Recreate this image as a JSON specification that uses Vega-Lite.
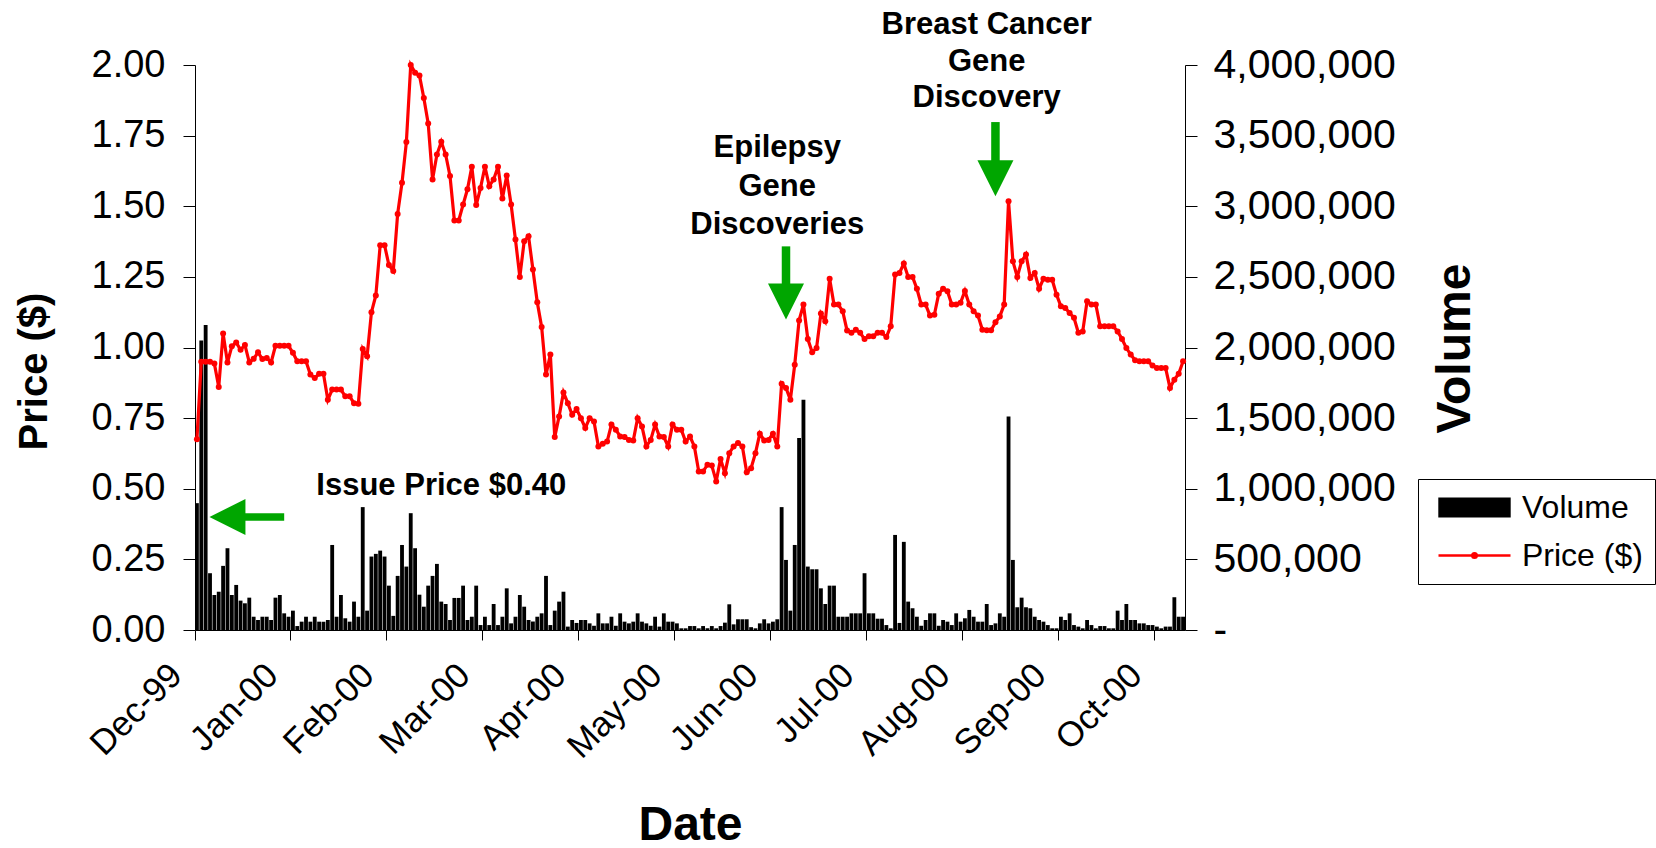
{
"$schema": "https://vega.github.io/schema/vega-lite/v6.json",
"width": 990, "height": 565,
"autosize": {"type": "none"},
"padding": {"left": 195, "top": 65, "right": 471, "bottom": 218},
"background": "white",
"config": {
  "view": {"stroke": null},
  "font": "Liberation Sans",
  "axis": {"grid": false, "domainColor": "black", "tickColor": "black", "labelColor": "black", "titleColor": "black", "labelFont": "Liberation Sans", "titleFont": "Liberation Sans"}
},
"datasets": {"stock": [
{"d":"1999-12-01","p":0.675,"v":898000},{"d":"1999-12-02","p":0.95,"v":2050000},{"d":"1999-12-03","p":0.95,"v":2160000},{"d":"1999-12-06","p":0.95,"v":402000},{"d":"1999-12-07","p":0.943,"v":248000},{"d":"1999-12-08","p":0.86,"v":271000},{"d":"1999-12-09","p":1.05,"v":454000},{"d":"1999-12-10","p":0.947,"v":579000},{"d":"1999-12-13","p":1.004,"v":248000},{"d":"1999-12-14","p":1.018,"v":319000},
{"d":"1999-12-15","p":0.992,"v":208000},{"d":"1999-12-16","p":1.009,"v":189000},{"d":"1999-12-17","p":0.947,"v":229000},{"d":"1999-12-20","p":0.96,"v":94000},{"d":"1999-12-21","p":0.983,"v":71000},{"d":"1999-12-22","p":0.959,"v":94000},{"d":"1999-12-23","p":0.963,"v":94000},{"d":"1999-12-24","p":0.947,"v":71000},{"d":"1999-12-29","p":1.006,"v":229000},{"d":"1999-12-30","p":1.006,"v":248000},
{"d":"1999-12-31","p":1.006,"v":118000},{"d":"2000-01-04","p":1.006,"v":94000},{"d":"2000-01-05","p":0.981,"v":137000},{"d":"2000-01-06","p":0.951,"v":28000},{"d":"2000-01-07","p":0.951,"v":59000},{"d":"2000-01-10","p":0.951,"v":94000},{"d":"2000-01-11","p":0.904,"v":59000},{"d":"2000-01-12","p":0.892,"v":94000},{"d":"2000-01-13","p":0.907,"v":59000},{"d":"2000-01-14","p":0.907,"v":59000},
{"d":"2000-01-17","p":0.815,"v":71000},{"d":"2000-01-18","p":0.851,"v":602000},{"d":"2000-01-19","p":0.851,"v":94000},{"d":"2000-01-20","p":0.851,"v":248000},{"d":"2000-01-21","p":0.827,"v":83000},{"d":"2000-01-24","p":0.827,"v":59000},{"d":"2000-01-25","p":0.803,"v":201000},{"d":"2000-01-27","p":0.801,"v":94000},{"d":"2000-01-28","p":0.995,"v":870000},{"d":"2000-01-31","p":0.969,"v":137000},
{"d":"2000-02-01","p":1.125,"v":520000},{"d":"2000-02-02","p":1.184,"v":539000},{"d":"2000-02-03","p":1.362,"v":562000},{"d":"2000-02-04","p":1.362,"v":520000},{"d":"2000-02-07","p":1.292,"v":314000},{"d":"2000-02-08","p":1.271,"v":100000},{"d":"2000-02-09","p":1.473,"v":383000},{"d":"2000-02-10","p":1.583,"v":602000},{"d":"2000-02-11","p":1.727,"v":449000},{"d":"2000-02-14","p":2.0,"v":827000},
{"d":"2000-02-15","p":1.973,"v":579000},{"d":"2000-02-16","p":1.963,"v":250000},{"d":"2000-02-17","p":1.883,"v":165000},{"d":"2000-02-18","p":1.793,"v":314000},{"d":"2000-02-21","p":1.595,"v":383000},{"d":"2000-02-22","p":1.683,"v":468000},{"d":"2000-02-23","p":1.728,"v":201000},{"d":"2000-02-24","p":1.683,"v":184000},{"d":"2000-02-25","p":1.607,"v":71000},{"d":"2000-02-28","p":1.45,"v":227000},
{"d":"2000-02-29","p":1.45,"v":227000},{"d":"2000-03-01","p":1.506,"v":314000},{"d":"2000-03-02","p":1.56,"v":71000},{"d":"2000-03-03","p":1.64,"v":94000},{"d":"2000-03-06","p":1.504,"v":314000},{"d":"2000-03-07","p":1.565,"v":35000},{"d":"2000-03-08","p":1.64,"v":94000},{"d":"2000-03-09","p":1.571,"v":35000},{"d":"2000-03-10","p":1.595,"v":184000},{"d":"2000-03-13","p":1.64,"v":35000},
{"d":"2000-03-14","p":1.527,"v":94000},{"d":"2000-03-15","p":1.609,"v":295000},{"d":"2000-03-16","p":1.506,"v":47000},{"d":"2000-03-17","p":1.382,"v":94000},{"d":"2000-03-20","p":1.25,"v":248000},{"d":"2000-03-21","p":1.376,"v":165000},{"d":"2000-03-22","p":1.394,"v":71000},{"d":"2000-03-23","p":1.276,"v":60000},{"d":"2000-03-24","p":1.16,"v":94000},{"d":"2000-03-27","p":1.073,"v":118000},
{"d":"2000-03-28","p":0.904,"v":383000},{"d":"2000-03-29","p":0.975,"v":35000},{"d":"2000-03-30","p":0.683,"v":137000},{"d":"2000-03-31","p":0.756,"v":201000},{"d":"2000-04-03","p":0.841,"v":271000},{"d":"2000-04-04","p":0.803,"v":24000},{"d":"2000-04-05","p":0.762,"v":71000},{"d":"2000-04-06","p":0.782,"v":50000},{"d":"2000-04-07","p":0.75,"v":71000},{"d":"2000-04-10","p":0.715,"v":71000},
{"d":"2000-04-11","p":0.75,"v":47000},{"d":"2000-04-12","p":0.738,"v":30000},{"d":"2000-04-13","p":0.65,"v":118000},{"d":"2000-04-14","p":0.659,"v":47000},{"d":"2000-04-17","p":0.667,"v":47000},{"d":"2000-04-18","p":0.727,"v":94000},{"d":"2000-04-19","p":0.709,"v":30000},{"d":"2000-04-20","p":0.685,"v":118000},{"d":"2000-04-26","p":0.683,"v":59000},{"d":"2000-04-27","p":0.673,"v":47000},
{"d":"2000-04-28","p":0.671,"v":59000},{"d":"2000-05-01","p":0.75,"v":118000},{"d":"2000-05-02","p":0.72,"v":59000},{"d":"2000-05-03","p":0.65,"v":47000},{"d":"2000-05-04","p":0.673,"v":30000},{"d":"2000-05-05","p":0.727,"v":94000},{"d":"2000-05-08","p":0.685,"v":24000},{"d":"2000-05-09","p":0.683,"v":118000},{"d":"2000-05-10","p":0.65,"v":59000},{"d":"2000-05-11","p":0.727,"v":59000},
{"d":"2000-05-12","p":0.709,"v":47000},{"d":"2000-05-15","p":0.709,"v":12000},{"d":"2000-05-16","p":0.667,"v":12000},{"d":"2000-05-17","p":0.685,"v":28000},{"d":"2000-05-18","p":0.65,"v":28000},{"d":"2000-05-19","p":0.561,"v":12000},{"d":"2000-05-22","p":0.561,"v":28000},{"d":"2000-05-23","p":0.585,"v":12000},{"d":"2000-05-24","p":0.582,"v":28000},{"d":"2000-05-25","p":0.526,"v":12000},
{"d":"2000-05-26","p":0.605,"v":28000},{"d":"2000-05-29","p":0.555,"v":52000},{"d":"2000-05-30","p":0.626,"v":182000},{"d":"2000-05-31","p":0.65,"v":40000},{"d":"2000-06-01","p":0.662,"v":76000},{"d":"2000-06-02","p":0.65,"v":76000},{"d":"2000-06-05","p":0.558,"v":76000},{"d":"2000-06-06","p":0.573,"v":20000},{"d":"2000-06-07","p":0.626,"v":12000},{"d":"2000-06-08","p":0.695,"v":47000},
{"d":"2000-06-09","p":0.671,"v":76000},{"d":"2000-06-13","p":0.673,"v":47000},{"d":"2000-06-14","p":0.695,"v":59000},{"d":"2000-06-15","p":0.65,"v":76000},{"d":"2000-06-16","p":0.872,"v":870000},{"d":"2000-06-19","p":0.857,"v":496000},{"d":"2000-06-20","p":0.815,"v":137000},{"d":"2000-06-21","p":0.939,"v":602000},{"d":"2000-06-22","p":1.096,"v":1360000},{"d":"2000-06-23","p":1.152,"v":1630000},
{"d":"2000-06-26","p":1.03,"v":449000},{"d":"2000-06-27","p":0.983,"v":430000},{"d":"2000-06-28","p":0.998,"v":430000},{"d":"2000-06-29","p":1.12,"v":295000},{"d":"2000-06-30","p":1.093,"v":184000},{"d":"2000-07-03","p":1.243,"v":314000},{"d":"2000-07-04","p":1.152,"v":314000},{"d":"2000-07-05","p":1.152,"v":94000},{"d":"2000-07-06","p":1.128,"v":94000},{"d":"2000-07-07","p":1.06,"v":94000},
{"d":"2000-07-10","p":1.052,"v":118000},{"d":"2000-07-11","p":1.063,"v":118000},{"d":"2000-07-12","p":1.052,"v":118000},{"d":"2000-07-13","p":1.03,"v":402000},{"d":"2000-07-14","p":1.04,"v":118000},{"d":"2000-07-17","p":1.04,"v":118000},{"d":"2000-07-18","p":1.052,"v":80000},{"d":"2000-07-19","p":1.052,"v":80000},{"d":"2000-07-20","p":1.037,"v":35000},{"d":"2000-07-21","p":1.075,"v":12000},
{"d":"2000-07-24","p":1.258,"v":673000},{"d":"2000-07-25","p":1.264,"v":50000},{"d":"2000-07-26","p":1.297,"v":624000},{"d":"2000-07-27","p":1.25,"v":201000},{"d":"2000-07-28","p":1.25,"v":154000},{"d":"2000-07-31","p":1.208,"v":94000},{"d":"2000-08-01","p":1.152,"v":30000},{"d":"2000-08-02","p":1.152,"v":71000},{"d":"2000-08-03","p":1.113,"v":118000},{"d":"2000-08-04","p":1.116,"v":118000},
{"d":"2000-08-07","p":1.19,"v":30000},{"d":"2000-08-08","p":1.208,"v":71000},{"d":"2000-08-09","p":1.199,"v":59000},{"d":"2000-08-10","p":1.152,"v":35000},{"d":"2000-08-11","p":1.152,"v":118000},{"d":"2000-08-14","p":1.158,"v":59000},{"d":"2000-08-15","p":1.2,"v":83000},{"d":"2000-08-16","p":1.152,"v":142000},{"d":"2000-08-17","p":1.128,"v":94000},{"d":"2000-08-18","p":1.113,"v":59000},
{"d":"2000-08-21","p":1.063,"v":59000},{"d":"2000-08-22","p":1.061,"v":184000},{"d":"2000-08-23","p":1.061,"v":35000},{"d":"2000-08-24","p":1.089,"v":47000},{"d":"2000-08-25","p":1.11,"v":118000},{"d":"2000-08-28","p":1.152,"v":94000},{"d":"2000-08-29","p":1.518,"v":1512000},{"d":"2000-08-30","p":1.305,"v":496000},{"d":"2000-08-31","p":1.25,"v":161000},{"d":"2000-09-01","p":1.305,"v":229000},
{"d":"2000-09-04","p":1.329,"v":161000},{"d":"2000-09-05","p":1.246,"v":154000},{"d":"2000-09-06","p":1.264,"v":94000},{"d":"2000-09-07","p":1.208,"v":71000},{"d":"2000-09-08","p":1.243,"v":59000},{"d":"2000-09-11","p":1.24,"v":35000},{"d":"2000-09-12","p":1.24,"v":12000},{"d":"2000-09-13","p":1.187,"v":12000},{"d":"2000-09-14","p":1.146,"v":94000},{"d":"2000-09-15","p":1.14,"v":71000},
{"d":"2000-09-18","p":1.122,"v":118000},{"d":"2000-09-19","p":1.105,"v":35000},{"d":"2000-09-20","p":1.052,"v":24000},{"d":"2000-09-21","p":1.057,"v":12000},{"d":"2000-09-22","p":1.164,"v":71000},{"d":"2000-09-25","p":1.152,"v":35000},{"d":"2000-09-26","p":1.152,"v":12000},{"d":"2000-09-27","p":1.075,"v":28000},{"d":"2000-09-28","p":1.075,"v":28000},{"d":"2000-09-29","p":1.075,"v":12000},
{"d":"2000-10-02","p":1.075,"v":12000},{"d":"2000-10-03","p":1.057,"v":137000},{"d":"2000-10-04","p":1.03,"v":71000},{"d":"2000-10-05","p":0.998,"v":184000},{"d":"2000-10-06","p":0.975,"v":71000},{"d":"2000-10-09","p":0.955,"v":71000},{"d":"2000-10-10","p":0.951,"v":47000},{"d":"2000-10-11","p":0.951,"v":47000},{"d":"2000-10-12","p":0.951,"v":35000},{"d":"2000-10-13","p":0.936,"v":35000},
{"d":"2000-10-16","p":0.927,"v":24000},{"d":"2000-10-17","p":0.927,"v":12000},{"d":"2000-10-18","p":0.927,"v":24000},{"d":"2000-10-19","p":0.857,"v":24000},{"d":"2000-10-20","p":0.886,"v":232000},{"d":"2000-10-23","p":0.907,"v":94000},{"d":"2000-10-24","p":0.951,"v":94000}
]},
"data": {"name": "stock"},
"encoding": {
  "x": {"field": "d", "type": "ordinal",
    "scale": {"paddingInner": 0.12, "paddingOuter": 0},
    "axis": {
      "values": ["1999-12-01","2000-01-05","2000-02-07","2000-03-08","2000-04-07","2000-05-12","2000-06-14","2000-07-14","2000-08-15","2000-09-14","2000-10-16"],
      "bandPosition": 0,
      "labelExpr": "utcFormat(toDate(datum.value), '%b-%y')",
      "labelAngle": -45, "labelAlign": "right", "labelBaseline": "bottom",
      "labelFontSize": 35, "labelPadding": 42, "labelOffset": -8,
      "labelOverlap": false, "labelFlush": false, "labelBound": false,
      "tickSize": 10,
      "title": "Date", "titleFontSize": 48, "titleFontWeight": "bold",
      "titleX": 495, "titleY": 209, "titleAlign": "center", "titleBaseline": "alphabetic"
    }
  }
},
"layer": [
  {
    "mark": {"type": "bar", "color": "black"},
    "encoding": {
      "y": {"field": "v", "type": "quantitative",
        "scale": {"domain": [0, 4000000], "nice": false},
        "axis": {"orient": "right", "title": "Volume",
          "values": [0,500000,1000000,1500000,2000000,2500000,3000000,3500000,4000000],
          "labelExpr": "datum.value == 0 ? '-' : format(datum.value, ',')",
          "labelFontSize": 41, "labelPadding": 16, "labelLimit": 400, "tickSize": 12,
          "titleFontSize": 48, "titleFontWeight": "bold", "titleAngle": -90,
          "titleX": 270, "titleY": 283, "titleAlign": "center", "titleBaseline": "middle"}},
      "color": {"datum": "Volume",
        "scale": {"domain": ["Volume", "Price ($)"], "range": ["black", "red"]},
        "legend": {"orient": "none", "legendX": 1223, "legendY": 414, "title": null,
          "labelFontSize": 32, "labelFont": "Liberation Sans", "labelColor": "black",
          "strokeColor": "black", "fillColor": "white", "padding": 12,
          "symbolSize": 900, "symbolOffset": 28, "labelOffset": 31, "rowPadding": 15,
          "encode": {"symbols": {"update": {
            "shape": {"signal": "datum.value === 'Volume' ? 'M-2.33,-0.58H2.33V0.58H-2.33Z' : 'M-2.4,0H2.4M-0.15,0A0.15,0.15 0 1 1 0.15,0A0.15,0.15 0 1 1 -0.15,0'"},
            "fill": {"signal": "datum.value === 'Volume' ? 'black' : 'red'"},
            "stroke": {"signal": "datum.value === 'Volume' ? 'black' : 'red'"},
            "strokeWidth": {"value": 2.5},
            "opacity": {"value": 1}
          }}}}
      }
    }
  },
  {
    "layer": [
      {
        "mark": {"type": "line", "strokeWidth": 3.2, "point": {"filled": true, "size": 36, "opacity": 1}},
        "encoding": {
          "y": {"field": "p", "type": "quantitative",
            "scale": {"domain": [0, 2], "nice": false},
            "axis": {"orient": "left", "title": "Price ($)",
              "values": [0,0.25,0.5,0.75,1,1.25,1.5,1.75,2], "format": ".2f",
              "labelFontSize": 38, "labelPadding": 18, "tickSize": 12,
              "titleFontSize": 40, "titleFontWeight": "bold", "titleAngle": -90,
              "titleX": -161, "titleY": 306, "titleAlign": "center", "titleBaseline": "middle"}},
          "color": {"datum": "Price ($)"}
        }
      },
      {
        "data": {"values": [
          {"d": "2000-02-23", "p": 0.478, "t": "Issue Price $0.40"},
          {"d": "2000-06-15", "p": 1.673, "t": "Epilepsy\nGene\nDiscoveries"}
        ]},
        "mark": {"type": "text", "font": "Liberation Sans", "fontWeight": "bold", "fontSize": 31, "align": "center", "baseline": "alphabetic", "lineBreak": "\n", "lineHeight": 38.5, "color": "black"},
        "encoding": {"y": {"field": "p", "type": "quantitative"}, "text": {"field": "t"}}
      },
      {
        "data": {"values": [
          {"d": "2000-08-22", "p": 2.108, "t": "Breast Cancer\nGene\nDiscovery"}
        ]},
        "mark": {"type": "text", "font": "Liberation Sans", "fontWeight": "bold", "fontSize": 31, "align": "center", "baseline": "alphabetic", "lineBreak": "\n", "lineHeight": 36.5, "color": "black"},
        "encoding": {"y": {"field": "p", "type": "quantitative"}, "text": {"field": "t"}}
      },
      {
        "data": {"values": [
          {"d": "2000-06-19", "p": 1.358, "p2": 1.21},
          {"d": "2000-08-24", "p": 1.798, "p2": 1.65}
        ]},
        "mark": {"type": "rule", "color": "#00a600", "strokeWidth": 8.5},
        "encoding": {"y": {"field": "p", "type": "quantitative"}, "y2": {"field": "p2"}}
      },
      {
        "data": {"values": [
          {"d": "1999-12-16", "d2": "1999-12-31", "p": 0.40}
        ]},
        "mark": {"type": "rule", "color": "#00a600", "strokeWidth": 7.5},
        "encoding": {"x2": {"field": "d2"}, "y": {"field": "p", "type": "quantitative"}}
      },
      {
        "data": {"values": [
          {"d": "2000-06-19", "p": 1.1625},
          {"d": "2000-08-24", "p": 1.5995}
        ]},
        "mark": {"type": "point", "shape": "M-1,-1L1,-1L0,1Z", "size": 1296, "filled": true, "color": "#00a600", "opacity": 1, "strokeWidth": 0},
        "encoding": {"y": {"field": "p", "type": "quantitative"}}
      },
      {
        "data": {"values": [
          {"d": "1999-12-10", "p": 0.40}
        ]},
        "mark": {"type": "point", "shape": "M-1,0L1,-1L1,1Z", "size": 1296, "filled": true, "color": "#00a600", "opacity": 1, "strokeWidth": 0},
        "encoding": {"y": {"field": "p", "type": "quantitative"}}
      }
    ]
  }
],
"resolve": {"scale": {"y": "independent"}}
}
